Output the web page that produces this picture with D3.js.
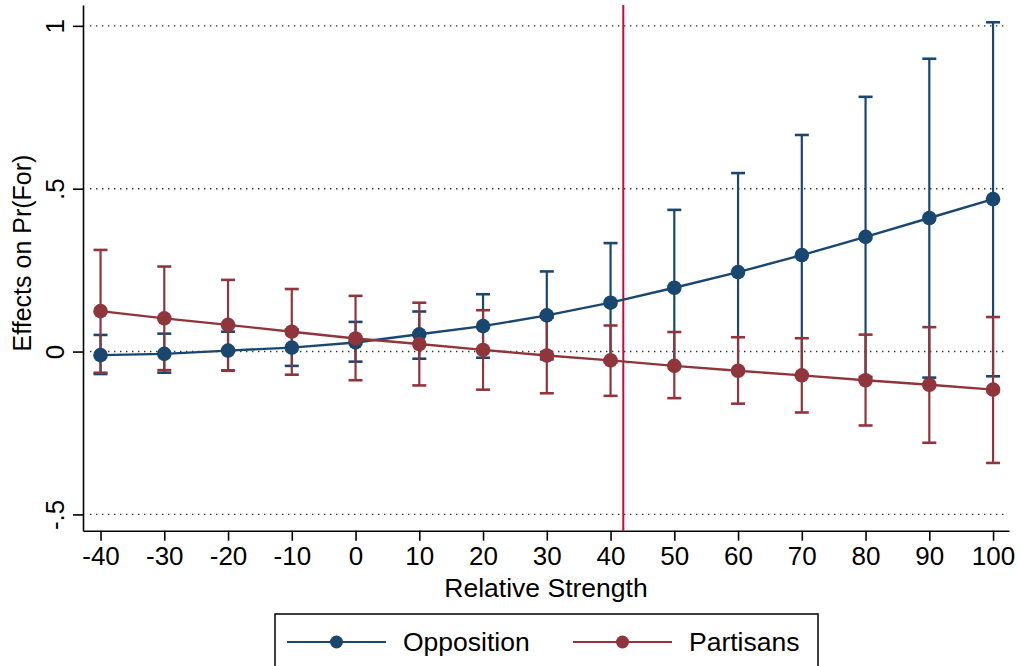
<!DOCTYPE html>
<html>
<head>
<meta charset="utf-8">
<script src="https://cdn.jsdelivr.net/npm/d3@7/dist/d3.min.js"></script>
<style>
  html, body { margin: 0; padding: 0; background: #fff; }
  svg { display: block; font-family: "Liberation Sans", Arial, Helvetica, sans-serif; }
</style>
</head>
<body>
<svg id="chart" width="1020" height="666"></svg>
<script>
// ---- data ----
const strength = [-40, -30, -20, -10, 0, 10, 20, 30, 40, 50, 60, 70, 80, 90, 100];
const oppEst   = [-0.011, -0.007, 0.003, 0.012, 0.028, 0.053, 0.078, 0.111, 0.150, 0.196, 0.244, 0.296, 0.352, 0.410, 0.468];
const oppLo    = [-0.069, -0.065, -0.058, -0.044, -0.031, -0.022, -0.019, -0.024, -0.033, -0.043, -0.060, -0.073, -0.078, -0.080, -0.076];
const oppHi    = [0.051, 0.055, 0.061, 0.068, 0.091, 0.123, 0.176, 0.246, 0.333, 0.435, 0.548, 0.665, 0.782, 0.899, 1.011];
const parEst   = [0.124, 0.102, 0.082, 0.061, 0.040, 0.023, 0.005, -0.012, -0.027, -0.044, -0.059, -0.073, -0.088, -0.102, -0.117];
const parLo    = [-0.065, -0.057, -0.059, -0.071, -0.088, -0.104, -0.117, -0.128, -0.136, -0.143, -0.160, -0.187, -0.227, -0.280, -0.342];
const parHi    = [0.312, 0.261, 0.220, 0.192, 0.171, 0.150, 0.127, 0.104, 0.080, 0.060, 0.044, 0.041, 0.052, 0.075, 0.106];
const xTicks   = [-40, -30, -20, -10, 0, 10, 20, 30, 40, 50, 60, 70, 80, 90, 100];
const yTicks   = [-0.5, 0, 0.5, 1];
const yTickLabels = ["-.5", "0", ".5", "1"];
const refLine  = 42;
const seriesNames = ["Opposition", "Partisans"];

// ---- styles ----
const BLUE = "#1a476f", RED = "#90353b", REF = "#c8093c";

const svg = d3.select("#chart");
const x = d3.scaleLinear().domain([-42.75, 102.5]).range([83, 1009]);
const y = d3.scaleLinear().domain([-0.55, 1.064]).range([530.7, 5]);

// gridlines
svg.append("g").selectAll("line").data(yTicks).join("line")
  .attr("x1", 90).attr("x2", 1006)
  .attr("y1", d => y(d)).attr("y2", d => y(d))
  .attr("stroke", "#333").attr("stroke-width", 1.4)
  .attr("stroke-dasharray", "1.4,4.6");

// axes
const xAxis = svg.append("g").attr("transform", `translate(0,${y.range()[0]})`)
  .call(d3.axisBottom(x).tickValues(xTicks).tickSizeOuter(0).tickSizeInner(10).tickPadding(6).tickFormat(d3.format("d")));
xAxis.select(".domain").attr("stroke", "#000").attr("stroke-width", 1.6);
xAxis.selectAll(".tick line").attr("stroke", "#000").attr("stroke-width", 1.6);
xAxis.selectAll(".tick text").attr("font-size", 26).attr("fill", "#000")
  .attr("font-family", "'Liberation Sans', Arial, sans-serif")
  .text(d => d < 0 ? "-" + Math.abs(d) : d);

const yAxis = svg.append("g").attr("transform", `translate(${x.range()[0]},0)`)
  .call(d3.axisLeft(y).tickValues(yTicks).tickSizeOuter(0).tickSizeInner(10).tickFormat((d, i) => yTickLabels[i]));
yAxis.select(".domain").attr("stroke", "#000").attr("stroke-width", 1.6);
yAxis.selectAll(".tick line").attr("stroke", "#000").attr("stroke-width", 1.6);
yAxis.selectAll(".tick text")
  .attr("font-size", 26).attr("fill", "#000")
  .attr("font-family", "'Liberation Sans', Arial, sans-serif")
  .attr("x", null).attr("dy", null)
  .attr("text-anchor", "middle")
  .attr("transform", "translate(-19,0) rotate(-90)");

// axis titles
svg.append("text").attr("x", 546).attr("y", 597).attr("text-anchor", "middle")
  .attr("font-size", 26.5).attr("fill", "#000").text("Relative Strength");
svg.append("text").attr("transform", "translate(31,253) rotate(-90)").attr("text-anchor", "middle")
  .attr("font-size", 25).attr("fill", "#000").text("Effects on Pr(For)");

// reference line
svg.append("line").attr("x1", x(refLine)).attr("x2", x(refLine))
  .attr("y1", y.range()[1]).attr("y2", y.range()[0])
  .attr("stroke", REF).attr("stroke-width", 2);

function drawCI(lo, hi, color) {
  const g = svg.append("g").attr("stroke", color).attr("stroke-width", 2.2).attr("fill", "none");
  strength.forEach((s, i) => {
    const cx = x(s);
    g.append("line").attr("x1", cx).attr("x2", cx).attr("y1", y(lo[i])).attr("y2", y(hi[i]));
    g.append("line").attr("x1", cx - 7).attr("x2", cx + 7).attr("y1", y(lo[i])).attr("y2", y(lo[i])).attr("stroke-width", 2.6);
    g.append("line").attr("x1", cx - 7).attr("x2", cx + 7).attr("y1", y(hi[i])).attr("y2", y(hi[i])).attr("stroke-width", 2.6);
  });
}
function drawLine(est, color) {
  const pts = strength.map((s, i) => [s, est[i]]);
  svg.append("path").datum(pts)
    .attr("d", d3.line().x(d => x(d[0])).y(d => y(d[1])))
    .attr("fill", "none").attr("stroke", color).attr("stroke-width", 2.4);
  svg.append("g").selectAll("circle").data(pts).join("circle")
    .attr("cx", d => x(d[0])).attr("cy", d => y(d[1])).attr("r", 7.3).attr("fill", color);
}

drawCI(oppLo, oppHi, BLUE);
drawCI(parLo, parHi, RED);
drawLine(oppEst, BLUE);
drawLine(parEst, RED);

// legend
const lg = svg.append("g");
lg.append("rect").attr("x", 275).attr("y", 614).attr("width", 543).attr("height", 70)
  .attr("fill", "#fff").attr("stroke", "#000").attr("stroke-width", 1.5);
const legendItems = [
  { name: seriesNames[0], color: BLUE, x0: 287 },
  { name: seriesNames[1], color: RED, x0: 573 }
];
legendItems.forEach(it => {
  lg.append("line").attr("x1", it.x0).attr("x2", it.x0 + 99).attr("y1", 642).attr("y2", 642)
    .attr("stroke", it.color).attr("stroke-width", 2.2);
  lg.append("circle").attr("cx", it.x0 + 49.5).attr("cy", 642).attr("r", 6.5).attr("fill", it.color);
  lg.append("text").attr("x", it.x0 + 116).attr("y", 651).attr("font-size", 26.5).attr("fill", "#000").text(it.name);
});
</script>
</body>
</html>
